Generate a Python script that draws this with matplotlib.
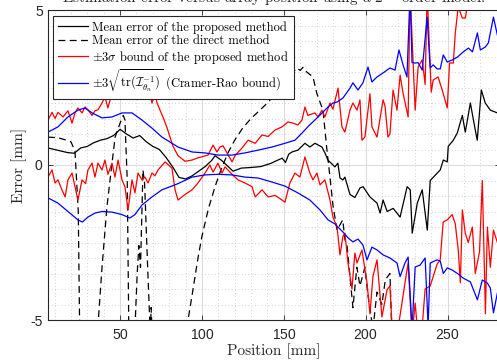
import numpy as np
import matplotlib.pyplot as plt
from matplotlib.ticker import MultipleLocator

plt.rcParams['font.family'] = 'serif'
plt.rcParams['font.serif'] = ['cmr10']
plt.rcParams['mathtext.fontset'] = 'cm'
plt.rcParams['axes.formatter.use_mathtext'] = True

# mean error of the proposed method
prop_x = [6, 10, 14, 18, 22, 26, 30, 34, 38, 42, 46, 50, 54, 58, 62, 66, 70, 74, 78, 82,
          86, 90, 94, 98, 102, 106, 108, 112, 116, 119, 124, 130, 136, 142, 146, 149, 151, 153, 155, 158.6,
          162.9, 165.9, 169, 173.3, 175.1, 176.9, 181.2, 183, 184.3, 186.1, 187.3, 190.4, 193.4, 196.5, 198.4,
          202.6, 206.9, 208.8, 210.6, 213.1, 216.8, 221, 225.3, 227.2, 228.4, 231.5, 234.5, 237.6, 239.4, 243.7,
          245.5, 247.4, 249.8, 250.4, 253.5, 255.9, 259, 260.8, 263.9, 266.9, 268.1, 270.6, 273, 276.1, 280.4]
prop_y = [0.55, 0.5, 0.45, 0.4, 0.38, 0.55, 0.6, 0.72, 0.8, 0.85, 0.95, 1.15, 1.0, 0.87, 0.95, 0.75, 0.6, 0.5, 0.25, -0.05,
          -0.4, -0.45, -0.35, -0.2, -0.05, 0.15, 0.3, 0.15, -0.05, -0.2, -0.1, -0.08, -0.05, 0.05, 0.15, 0.22, 0.08, 0.35, 0.42, 0.48,
          0.7, 0.58, 0.7, 0.58, 0.39, 0.16, -0.06, 0.06, -0.42, -0.48, -0.39, -0.95, -1.05, -0.74, -0.7,
          -1.03, -1.23, -1.55, -1.13, -1.5, -1.4, -1.68, -0.7, -0.8, -2.2, -1.23, -0.8, -2.1, -0.5, -0.26,
          -0.16, 0.16, 0.1, 0.6, 0.8, 1.03, 1.6, 1.06, 2.0, 1.13, 0.8, 2.42, 2.0, 1.77, 1.68]

# mean error of the direct method
dir_x = [6, 12, 16, 20, 22.5, 24.5, 25.5, 27, 35, 36.5, 39, 42, 45.1, 47, 50, 52, 53, 54.4, 55.5, 57,
         58.5, 60.5, 61.5, 62.5, 64, 65, 67, 68.5, 69, 70, 71, 88, 91.5, 94, 97.6, 100, 104, 108, 112, 116,
         120, 125, 130, 135, 140, 145, 150, 154, 158, 160, 161.7, 164, 167.8, 170.2, 173.9, 176.3, 178.2, 180,
         182.5, 186, 187.3, 188.6, 190.4, 192.2, 194.6, 196.5, 199.5, 201.4, 204.4, 206.9, 209.9, 212, 214.8,
         216, 218]
dir_y = [0.9, 0.88, 0.82, 0.75, 0.45, -1.5, -6, -15, -15, -5.2, -3.3, -1.35, 0.06, 0.9, 1.35, 1.6, 1.45, -0.5, -6, -15,
         -6, -3.5, -2.6, -3.3, -0.16, -0.6, -3.5, -5.5, -4.6, -6, -15, -15, -5, -4.2, -3.0, -2.3, -1.4, -0.7, -0.1, 0.4,
         0.8, 1.2, 1.5, 1.75, 2.0, 2.3, 2.65, 2.9, 3.13, 3.05, 3.15, 3.0, 2.84, 2.3, 1.77, 0.5, -0.4, -1.3,
         -2.1, -1.77, -2.4, -2.6, -3.6, -4.6, -3.3, -3.9, -3.3, -4.2, -5.3, -4.1, -4.5, -3.7, -3.5,
         -5.5, -15]

# +3 sigma bound of the proposed method
ru_x = [6, 8.5, 10.3, 12.1, 15.2, 18.2, 20.7, 22.5, 24.3, 26.8, 28.6, 30.4, 32.9, 34.7, 36.5, 39, 40.8, 42.6, 45.1, 46.9,
        48.8, 51.2, 53, 54.9, 57.3, 59.1, 61, 63.4, 65.2, 67.1, 69.5, 71.3, 72.6, 74.4, 76.2, 78.7, 80.5, 82.4, 85.4, 89.7,
        94, 97.6, 103.7, 106.8, 109.2, 111, 112.9, 115.3, 118.4, 120.2, 124.5, 128.2, 132.5, 136.7, 140.4, 144.7, 148.9,
        152.6, 155.6, 158.6, 161.1, 162.9, 164.7, 169, 170.9, 173.3, 175.1, 178.2, 180, 183.1, 185.5, 187.3, 190.4, 192.2,
        194.7, 196.5, 197.7, 199.5, 202.6, 203.8, 206.9, 210.6, 211.8, 213.6, 214.8, 216.7, 219.1, 221, 222.8, 225.9,
        227.1, 230.2, 232, 234.5, 236.3, 237.5, 240, 241.2, 244.2, 246.7, 249.8, 251.2, 253.5, 254.7, 256.5, 259, 260.8,
        262.6, 266]
ru_y = [1.45, 1.7, 1.5, 1.7, 1.55, 1.75, 1.35, 1.68, 1.84, 1.68, 1.87, 1.78, 1.6, 1.75, 1.78, 2.0, 2.2, 1.84, 2.32, 2.58,
        2.3, 2.6, 2.35, 2.7, 2.4, 2.55, 2.2, 2.5, 2.3, 2.6, 2.0, 2.3, 2.0, 1.77, 1.55, 1.2, 0.9, 0.6, 0.3, 0.12,
        0.16, 0.23, 0.32, 0.64, 0.42, 0.58, 0.62, 0.39, 0.1, 0.3, 0.55, 0.8, 0.7, 0.97, 0.92, 1.13, 1.23,
        1.39, 1.35, 1.29, 1.45, 1.87, 1.6, 1.68, 1.55, 1.77, 1.55, 2.0, 1.8, 2.48, 1.23, 1.06, 1.77, 2.0,
        1.77, 2.1, 0.8, 0.9, 2.3, 1.23, 0.9, 2.1, 1.9, 0.9, 1.0, 2.42, 1.77, 2.9, 2.32, 1.55,
        5.6, 1.77, 3.16, 3.39, 2.6, 5.6, 2.35, 2.74, 2.84, 2.42, 1.84, 3.29, 3.29, 4.26, 5.1, 4.74, 4.74,
        5.3, 6.5]

# -3 sigma bound of the proposed method
rl_x = [6, 8.5, 10.3, 12.1, 14.5, 16.5, 18.2, 20.7, 22.5, 24.3, 26.8, 29, 30.4, 32.9, 34.7, 36.5, 39, 40.8, 42.6, 45.1,
        46.9, 48.8, 51.2, 53, 54.9, 57.3, 59.1, 61, 63.4, 65.2, 67.1, 69.5, 71.3, 73.2, 77.5, 81.7, 83.6, 85.4, 89.7, 94,
        97.6, 101.9, 104.9, 106.8, 109.8, 112.3, 114.1, 118.4, 122, 126.3, 130.6, 132.5, 136.7, 140.4, 144.7, 148.9,
        150.7, 153.7, 156.8, 159.8, 162.9, 165.9, 167.8, 170.2, 172.1, 175.1, 178.2, 180, 182.5, 184.3, 186.1, 187.3,
        189.2, 191.6, 193.4, 194.7, 197.7, 200.8, 202.6, 204.4, 206.9, 209.9, 213, 214.8, 216.1, 219.7, 224, 225.9,
        228.3, 230.2, 231.4, 234.5, 236.3, 239.4, 241.2, 243.6, 245.5, 247.3, 249.8, 252.8, 254.7, 256.5, 257.8, 259,
        260.8, 262.6, 265.1, 266.9, 269.5, 271.2, 273.1, 274.3, 276.1, 278, 280.4]
rl_y = [-0.39, -0.16, -0.58, -0.48, -0.8, -1.03, -0.48, -0.26, -0.7, -1.13, -0.48, -0.6, -0.16, 0.06, -0.39, 0.06, -0.16,
        0.16, -0.3, 0.06, -0.39, 0.16, -0.48, -0.7, -1.45, -0.48, -0.9, -0.26, -0.48, -0.39, -0.58, -0.26, -0.35, -0.16,
        0.1, -0.1, -0.8, -1.13, -0.95, -0.8, -0.58, -0.26, 0.0, -0.23, 0.06, -0.26, -0.06, -0.3, -0.48, -0.58, -0.7,
        -1.03, -0.8, -1.03, -0.98, -1.13, -1.2, -0.58, -0.26, -0.39, 0.26, -0.26, -0.48, -0.26, -0.64, -0.48, -1.13,
        -1.68, -2.0, -2.9, -2.3, -2.2, -3.16, -4.0, -2.84, -3.16, -2.74, -3.8, -4.8, -3.6, -3.06, -4.9, -4.03, -3.9,
        -5.2, -5.3, -3.8, -3.16, -5.5, -4.45, -5.2, -5.2, -4.0, -3.9, -3.6, -3.2, -3.06, -1.84, -1.77, -1.6, -1.9,
        -2.74, -3.8, -1.45, -2.2, -2.5, -2.0, -3.5, -2.8, -0.5, -4.8, -2.0, -3.3, -2.1, -2.5]

# +/- 3 sqrt(tr(I^-1)) Cramer-Rao bound
bu_x = [6, 12.1, 18.2, 24.3, 28.6, 32.9, 39, 45.1, 51.2, 57.3, 63.4, 69.5, 75.6, 83.6, 85.4, 94, 101.9, 109.8, 118.4,
        126.3, 134.3, 142.8, 150.7, 156.8, 161.1, 165, 170.9, 177, 180, 182.5, 186.1, 190.4, 192.2, 195.3, 198.3, 201.4,
        203.8, 206.9, 210.6, 214.8, 217.9, 220.3, 222.8, 225.2, 227.1, 228.3, 230.2, 232, 234.5, 237.5, 239.4, 241.2,
        243.6, 245.5, 247.4, 249.8, 252.9, 256, 259.6, 262.7, 265.2, 268.2, 270, 273.1, 274.9, 278, 280.4]
bu_y = [1.06, 1.23, 1.55, 1.77, 1.84, 1.68, 1.52, 1.55, 1.68, 1.68, 1.45, 1.19, 0.9, 0.64, 0.58, 0.42, 0.39, 0.32, 0.32,
        0.39, 0.48, 0.58, 0.7, 0.8, 1.03, 1.25, 1.55, 1.87, 2.0, 2.03, 2.16, 2.48, 2.65, 2.42, 2.65, 3.16,
        2.68, 2.84, 2.97, 3.13, 3.06, 3.71, 3.23, 2.84, 5.6, 3.3, 3.29, 3.3, 3.06, 4.77, 3.13, 3.23,
        3.1, 3.1, 3.55, 3.32, 3.39, 3.48, 3.65, 3.77, 3.65, 4.26, 3.71, 3.81, 3.94, 4.77, 4.19]
bl_x = [6, 12.1, 18.2, 24.3, 27, 30.4, 34.7, 39, 45.1, 51.2, 56, 59.1, 63.4, 69.5, 75.6, 83.6, 85.4, 94, 101.9, 109.8,
        118.4, 126.3, 134.3, 142.8, 150.7, 158.6, 165.9, 172.1, 177, 181.2, 183, 186.1, 189.2, 192.2, 195.3, 198.3,
        200.8, 203.8, 206.9, 210.6, 214.8, 219.1, 221, 224, 225.9, 228.3, 230.2, 233.2, 236.3, 238.1, 239.4, 243.6,
        245.5, 247.4, 249.8, 252.9, 256, 259.6, 263.9, 268.2, 271.2, 274.3, 276.1, 278, 280.4]
bl_y = [-1.06, -1.23, -1.5, -1.77, -1.84, -1.68, -1.55, -1.5, -1.52, -1.6, -1.71, -1.6, -1.29, -1.03, -0.8, -0.64, -0.6,
        -0.39, -0.32, -0.3, -0.32, -0.39, -0.42, -0.55, -0.68, -0.9, -1.13, -1.45, -1.77, -1.9, -2.0, -2.16, -2.35,
        -2.48, -2.39, -2.58, -3.06, -2.65, -2.74, -2.9, -3.0, -3.16, -3.6, -3.16, -2.97, -5.3, -3.29, -3.23, -3.0,
        -5.2, -3.16, -3.06, -3.1, -3.5, -3.32, -3.39, -3.5, -3.65, -3.77, -4.35, -3.71, -3.81, -3.97, -4.77, -4.13]

x_ticks = [50, 100, 150, 200, 250]
y_ticks = [-5, 0, 5]
y_ticklabels = ['-5', '0', '5']

W, H = 497, 361
fig = plt.figure(figsize=(W / 100, H / 100), dpi=100)
# the axes run slightly past the right edge of the picture, as in the reference
ax = fig.add_axes([48.3 / W, 41 / H, 451.7 / W, 310 / H])

lw = 0.9
ax.plot(prop_x, prop_y, color='k', lw=lw, label='Mean error of the proposed method')
ax.plot(dir_x, dir_y, color='k', lw=lw, ls=(0, (5.5, 3.5)), label='Mean error of the direct method')
ax.plot(ru_x, ru_y, color='r', lw=lw, label=r'$\pm3\sigma$ bound of the proposed method')
ax.plot(rl_x, rl_y, color='r', lw=lw)
ax.plot(bu_x, bu_y, color='b', lw=lw,
        label=r'$\pm3\sqrt{\mathrm{tr}(\mathcal{I}_{\theta_n}^{-1})}$ (Cramer-Rao bound)')
ax.plot(bl_x, bl_y, color='b', lw=lw)

ax.set_xlim(6.2, 282)
ax.set_ylim(-5, 5)
ax.set_xticks(x_ticks)
ax.set_yticks(y_ticks)
ax.set_yticklabels(y_ticklabels)
ax.xaxis.set_minor_locator(MultipleLocator(10))
ax.yaxis.set_minor_locator(MultipleLocator(0.5))

ax.set_axisbelow(True)
ax.grid(True, which='major', color='#dcdcdc', lw=0.8, ls='-')
ax.grid(True, which='minor', color='#c4c4c4', lw=0.6, ls=(0, (1, 3)))

for sp in ax.spines.values():
    sp.set_color('#262626')
    sp.set_linewidth(0.8)
ax.tick_params(which='both', direction='in', top=True, right=True, colors='#262626')
ax.tick_params(which='minor', length=0)
ax.tick_params(which='major', length=3.5, width=0.6, labelsize=10, labelfontfamily='Liberation Sans')
ax.tick_params(axis='x', pad=5.5)
ax.tick_params(axis='y', pad=4)

ax.set_xlabel('Position [mm]', fontsize=11, color='#262626')
ax.set_ylabel('Error [mm]', fontsize=11, color='#262626')
ax.xaxis.set_label_coords(0.5, -0.075)
ax.yaxis.set_label_coords(-0.047, 0.5)

ax.set_title(r'Estimation error versus array position using a 2$^{\mathrm{nd}}$ order model.',
             fontsize=11, pad=5, color='#262626')

leg = ax.legend(loc='upper left', bbox_to_anchor=(0.0104, 0.9806), borderaxespad=0,
                fontsize=9, fancybox=False, framealpha=1, edgecolor='#262626',
                handlelength=2.4, handletextpad=0.35, labelspacing=0.12, borderpad=0.4)
leg.get_frame().set_linewidth(0.8)

fig.savefig('out.png', dpi=100)
